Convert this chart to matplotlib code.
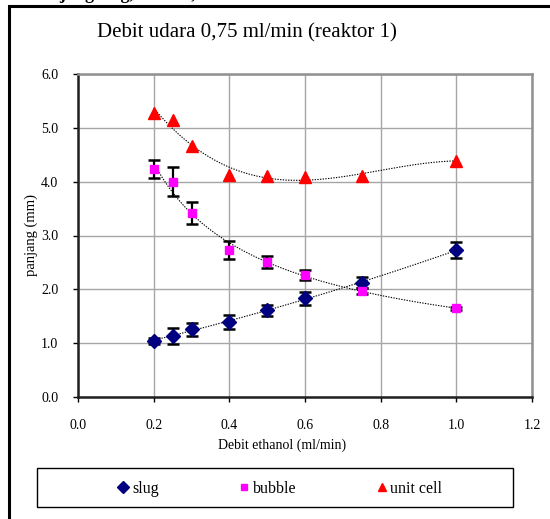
import numpy as np
import matplotlib
matplotlib.use("Agg")
import matplotlib.pyplot as plt
from matplotlib.patches import Rectangle

plt.rcParams['font.family'] = ['Liberation Serif', 'DejaVu Serif']

# data
debit_ethanol = np.array([0.2, 0.25, 0.3, 0.4, 0.5, 0.6, 0.75, 1.0])

slug = np.array([1.04, 1.14, 1.26, 1.40, 1.61, 1.83, 2.12, 2.73])
slug_err = np.array([0.05, 0.15, 0.12, 0.13, 0.10, 0.12, 0.10, 0.15])

bubble = np.array([4.24, 4.00, 3.42, 2.73, 2.51, 2.27, 1.97, 1.65])
bubble_err = np.array([0.17, 0.27, 0.21, 0.16, 0.11, 0.09, 0.05, 0.03])

unit_cell = np.array([5.28, 5.15, 4.67, 4.13, 4.11, 4.09, 4.11, 4.39])

xticks = [0.0, 0.2, 0.4, 0.6, 0.8, 1.0, 1.2]
yticks = [0.0, 1.0, 2.0, 3.0, 4.0, 5.0, 6.0]

W, H = 550, 519
fig = plt.figure(figsize=(5.5, 5.19), dpi=100)
ax = fig.add_axes([78 / W, 1 - 397 / H, (532 - 78) / W, (397 - 74) / H])

# outer frame (cropped)
fig.patches.append(Rectangle((8.5 / W, 1 - 6 / H - 2), 2, 2, transform=fig.transFigure,
                             fill=False, edgecolor='black', lw=2.2))

# trend lines
xs = np.linspace(0.2, 1.0, 200)
p_slug = np.polyfit(debit_ethanol, slug, 2)
p_unit = np.polyfit(debit_ethanol, unit_cell, 3)
b, lna = np.polyfit(np.log(debit_ethanol), np.log(bubble), 1)
dot = (0, (1.2, 1.2))
ax.plot(xs, np.polyval(p_slug, xs), color='black', lw=0.8, ls=dot, zorder=3)
ax.plot(xs, np.exp(lna) * xs ** b, color='black', lw=0.8, ls=dot, zorder=3)
ax.plot(xs, np.polyval(p_unit, xs), color='black', lw=0.8, ls=dot, zorder=3)

# error bars
ax.errorbar(debit_ethanol, slug, yerr=slug_err, fmt='none', ecolor='black',
            elinewidth=1.6, capsize=4, capthick=1.8, zorder=4)
ax.errorbar(debit_ethanol, bubble, yerr=bubble_err, fmt='none', ecolor='black',
            elinewidth=1.6, capsize=4, capthick=1.8, zorder=4)

# markers
ax.plot(debit_ethanol, slug, 'D', color='#000080', ms=7.5, mec='#000080', zorder=5, label='slug')
ax.plot(debit_ethanol, bubble, 's', color='#ff00ff', ms=5.5, mec='#ff00ff', zorder=5, label='bubble')
ax.plot(debit_ethanol, unit_cell, '^', color='#ff0000', ms=8, mec='#ff0000', zorder=5, label='unit cell')

ax.set_xlim(0, 1.2)
ax.set_ylim(0, 6)
ax.set_xticks(xticks)
ax.set_yticks(yticks)
ax.set_xticklabels([f'{v:.1f}' for v in xticks])
ax.set_yticklabels([f'{v:.1f}' for v in yticks])
ax.grid(True, color='#a6a6a6', lw=1.0)
ax.set_axisbelow(True)
ax.tick_params(axis='both', direction='out', length=3.6, width=1, labelsize=10, colors='black')
ax.tick_params(axis='y', pad=10.5)
ax.tick_params(axis='x', pad=12.5)
for side in ['left', 'bottom']:
    ax.spines[side].set_color('#202020')
    ax.spines[side].set_linewidth(1.8)
for side in ['top', 'right']:
    ax.spines[side].set_color('#909090')
    ax.spines[side].set_linewidth(1.8)

fig.text(247 / W, 1 - 33 / H, 'Debit udara 0,75 ml/min (reaktor 1)', ha='center', va='center', fontsize=15)
fig.text(31 / W, 1 - 235 / H, 'panjang (mm)', ha='center', va='center', rotation=90, fontsize=10.5)
fig.text(282 / W, 1 - 445 / H, 'Debit ethanol (ml/min)', ha='center', va='center', fontsize=10)
fig.text(30 / W, 1 + 1 / H, 'Panjang slug, bubble, dan unit cell', ha='left', va='baseline',
         fontsize=13, weight='bold')

# legend
fig.patches.append(Rectangle((37 / W, 1 - 507 / H), (513 - 37) / W, (507 - 468) / H,
                             transform=fig.transFigure, fill=False, edgecolor='black', lw=1.0))
handles, labels = ax.get_legend_handles_labels()
leg = fig.legend(handles, labels, loc='center', bbox_to_anchor=(280 / W, 1 - 489 / H), ncol=3,
                 frameon=False, fontsize=11.5, handlelength=0.7, handletextpad=0.2,
                 columnspacing=5.0, markerscale=0.75)

fig.savefig('out.png', dpi=100)
